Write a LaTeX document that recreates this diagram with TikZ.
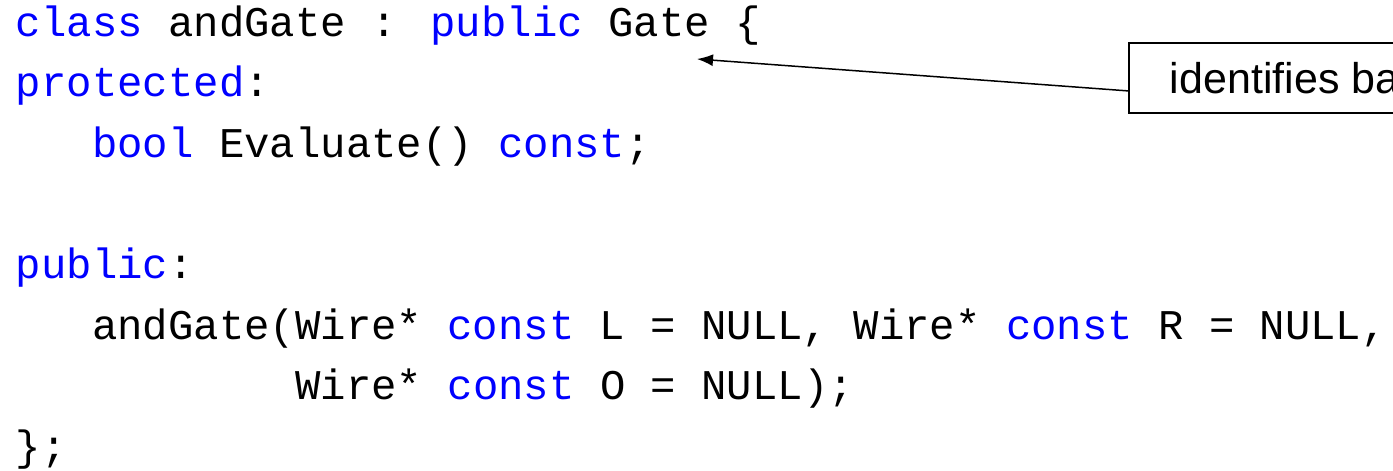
\documentclass[tikz,border=0pt]{standalone}
\usepackage{fontspec}
\usetikzlibrary{arrows.meta}
\newfontfamily\codefont{Liberation Mono}
\newfontfamily\notefont{Liberation Sans}
\definecolor{kw}{RGB}{0,0,255}
\newcommand{\kw}[1]{\textcolor{kw}{#1}}
\tikzset{
  codeline/.style={anchor=base west, inner sep=0pt, font=\codefont\fontsize{42.3}{50}\selectfont},
  notebox/.style={draw, line width=1.8pt, anchor=north west, inner xsep=41pt,
    minimum height=70pt, font=\notefont\fontsize{43}{50}\selectfont},
  pointer/.style={line width=1.5pt, -{Latex[length=16pt,width=12pt]}}
}
\begin{document}
\begin{tikzpicture}[x=1pt,y=-1pt]
  \useasboundingbox (0,0) rectangle (1393,471);
  \clip (0,0) rectangle (1393,471);
  % one column of Courier = 25.4 units, first column at x = 15.8
  \node[codeline] (l1) at (15.8,36)  {\kw{class} andGate : \kw{public} Gate \{};
  \node[codeline] (l2) at (15.8,96.5) {\kw{protected}:};
  \node[codeline] (l3) at (92,157)  {\kw{bool} Evaluate() \kw{const};};
  \node[codeline] (l5) at (15.8,278.5) {\kw{public}:};
  \node[codeline] (l6) at (92,339) {andGate(Wire* \kw{const} L = NULL, Wire* \kw{const} R = NULL,};
  \node[codeline] (l7) at (295.2,399.5) {Wire* \kw{const} O = NULL);};
  \node[codeline] (l8) at (15.8,460) {\};};

  % annotation box, running off the right edge
  \node[notebox] (note) at (1128,42) {identifies base class};
  \coordinate (from) at ([yshift=-13pt]note.west);
  \coordinate (tip) at (697,59);
  \draw[pointer] (from) -- (tip);
\end{tikzpicture}
\end{document}
